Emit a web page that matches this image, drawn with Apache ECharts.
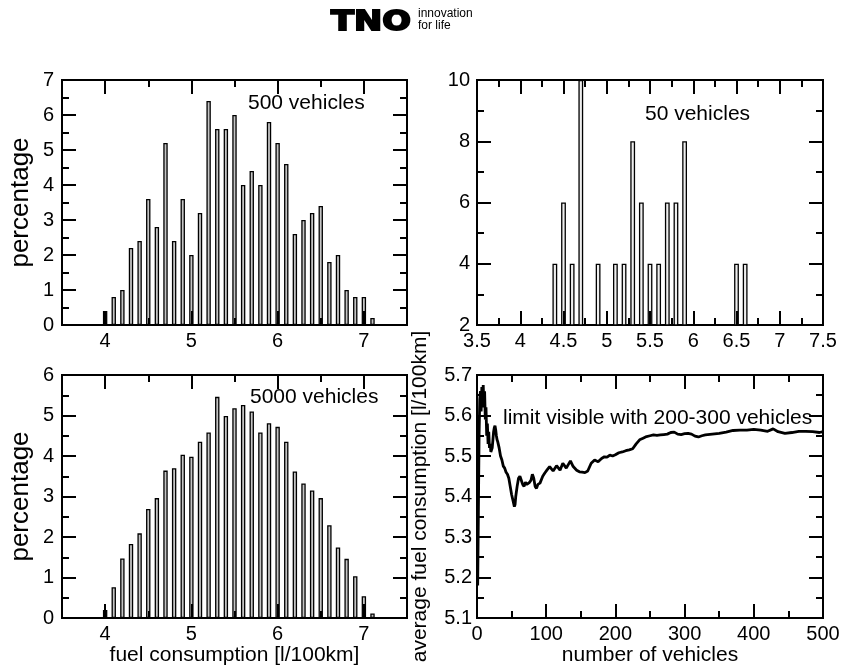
<!DOCTYPE html>
<html>
<head>
<meta charset="utf-8">
<title>fuel consumption</title>
<script src="https://cdn.jsdelivr.net/npm/echarts@6/dist/echarts.min.js"></script>
<style>
  html, body { margin: 0; padding: 0; background: #fff; }
  #chart { width: 843px; height: 671px; }
</style>
</head>
<body>
<div id="chart"></div>
<script>
// histogram bins (bin centre, l/100km)
const binCenters = [4.0, 4.1, 4.2, 4.3, 4.4, 4.5, 4.6, 4.7, 4.8, 4.9, 5.0, 5.1, 5.2, 5.3, 5.4, 5.5,
  5.6, 5.7, 5.8, 5.9, 6.0, 6.1, 6.2, 6.3, 6.4, 6.5, 6.6, 6.7, 6.8, 6.9, 7.0, 7.1]
// 500 vehicles, percentage per bin
const pct500 = [0.4, 0.8, 1.0, 2.2, 2.4, 3.6, 2.8, 5.2, 2.4, 3.6, 2.0, 3.2, 6.4, 5.6, 5.6, 6.0,
  4.0, 4.4, 4.0, 5.8, 5.2, 4.6, 2.6, 3.0, 3.2, 3.4, 1.8, 2.0, 1.0, 0.8, 0.8, 0.2]
// 5000 vehicles
const pct5000 = [0.2, 0.76, 1.47, 1.83, 2.09, 2.69, 2.96, 3.64, 3.7, 4.03, 3.98, 4.35, 4.58, 5.46, 4.99, 5.18,
  5.26, 5.1, 4.58, 4.81, 4.72, 4.35, 3.62, 3.32, 3.15, 2.96, 2.29, 1.74, 1.46, 1.03, 0.54, 0.11]
// 50 vehicles (only the bins above the axis minimum)
const bins50 = [4.4, 4.5, 4.6, 4.7, 4.9, 5.1, 5.2, 5.3, 5.4, 5.5, 5.6, 5.7, 5.8, 5.9, 6.5, 6.6]
const pct50 = [4, 6, 4, 10, 4, 4, 4, 8, 6, 4, 4, 6, 6, 8, 4, 4]

// running average against number of vehicles
const nVehicles = [1, 2, 3, 4, 5, 6, 7, 8, 9, 10, 11, 12, 13, 14, 15, 16, 17, 18, 19, 20,
  21, 22, 23, 24, 25, 26, 27, 28, 29, 30, 32, 34, 36, 38, 40, 42, 44, 46, 48, 50,
  52, 54, 55, 56, 58, 60, 62, 64, 66, 68, 70, 72, 74, 76, 78, 80, 82, 84, 86, 88,
  91, 95, 98, 101, 105, 110, 115, 120, 124, 129, 135, 139, 144, 148, 152, 156, 160, 165, 170, 175,
  180, 184, 188, 192, 196, 200, 205, 210, 215, 220, 225, 230, 235, 240, 245, 250, 255, 260, 265, 270,
  275, 280, 285, 290, 295, 300, 305, 310, 315, 320, 325, 330, 340, 350, 360, 370, 380, 390, 400, 410,
  420, 428, 435, 445, 455, 465, 475, 485, 495, 500]
const avgFuel = [5.18, 5.36, 5.55, 5.64, 5.66, 5.61, 5.67, 5.63, 5.675, 5.62, 5.66, 5.59, 5.62, 5.55, 5.58, 5.53, 5.56, 5.52, 5.53, 5.51,
  5.51, 5.52, 5.54, 5.56, 5.57, 5.575, 5.565, 5.55, 5.54, 5.535, 5.52, 5.50, 5.49, 5.475, 5.47, 5.46, 5.455, 5.445, 5.425, 5.405,
  5.39, 5.375, 5.38, 5.40, 5.425, 5.445, 5.45, 5.44, 5.43, 5.425, 5.435, 5.43, 5.43, 5.435, 5.44, 5.455, 5.445, 5.425, 5.42, 5.43,
  5.433, 5.45, 5.458, 5.465, 5.474, 5.463, 5.476, 5.465, 5.482, 5.47, 5.488, 5.474, 5.465, 5.461, 5.46, 5.459, 5.463, 5.482, 5.49, 5.486,
  5.494, 5.498, 5.497, 5.502, 5.5, 5.503, 5.508, 5.51, 5.513, 5.515, 5.518, 5.53, 5.54, 5.544, 5.548, 5.55, 5.552, 5.551, 5.552, 5.553,
  5.554, 5.558, 5.559, 5.554, 5.553, 5.555, 5.556, 5.554, 5.549, 5.547, 5.55, 5.552, 5.554, 5.556, 5.559, 5.563, 5.564, 5.564, 5.566, 5.564,
  5.561, 5.567, 5.56, 5.556, 5.558, 5.561, 5.561, 5.56, 5.558, 5.56]

const histMajor = [4, 5, 6, 7]
const histMinor = [4.5, 5.5, 6.5]

const FONT = 'Liberation Sans'
const black = '#000'

let xAxis = []
let yAxis = []

function tickStyle(len) {
  return { show: true, inside: true, length: len, lineStyle: { color: black, width: 2 } }
}

// main axis with labels plus a mirrored one on the opposite side (Grace style box ticks)
function addAxes(list, dim, grid, cfg) {
  let sides = dim === 'x' ? ['bottom', 'top'] : ['left', 'right']
  let mainIndex = list.length
  sides.forEach((side, k) => {
    let ax = {
      type: 'value',
      gridIndex: grid,
      position: side,
      min: cfg.min,
      max: cfg.max,
      z: 5,
      axisLine: { show: false, onZero: false },
      splitLine: { show: false },
      axisTick: tickStyle(14),
      axisLabel: {
        show: k === 0,
        color: black,
        fontFamily: FONT,
        fontSize: 20,
        margin: cfg.margin,
        showMinLabel: true,
        showMaxLabel: true,
        formatter: cfg.fmt
      }
    }
    if (cfg.interval) {
      ax.interval = cfg.interval
      ax.minorTick = { show: true, splitNumber: cfg.minorSplit, length: 7, lineStyle: { color: black, width: 2 } }
    }
    if (cfg.major) {
      ax.axisTick.customValues = cfg.major
      ax.axisLabel.customValues = cfg.major
    }
    if (k === 0 && cfg.name) {
      ax.name = cfg.name
      ax.nameLocation = 'middle'
      ax.nameGap = cfg.nameGap
      ax.nameTextStyle = { color: black, fontFamily: FONT, fontSize: cfg.nameSize }
    }
    list.push(ax)
  })
  if (cfg.minor) {
    sides.forEach(side => {
      let t = tickStyle(7)
      t.customValues = cfg.minor
      list.push({
        type: 'value', gridIndex: grid, position: side,
        min: cfg.min, max: cfg.max, z: 5,
        axisLine: { show: false, onZero: false },
        splitLine: { show: false },
        axisLabel: { show: false },
        axisTick: t
      })
    })
  }
  return mainIndex
}

const grids = [
  { left: 62, top: 80, width: 345, height: 245 },
  { left: 477, top: 80, width: 346, height: 245 },
  { left: 62, top: 375, width: 345, height: 243 },
  { left: 477, top: 375, width: 346, height: 243 }
].map(g => Object.assign(g, { show: true, borderColor: black, borderWidth: 2, backgroundColor: 'transparent' }))

// top left: 500 vehicles
let x0 = addAxes(xAxis, 'x', 0, { min: 3.5, max: 7.5, major: histMajor, minor: histMinor, margin: 6 })
let y0 = addAxes(yAxis, 'y', 0, { min: 0, max: 7, interval: 1, minorSplit: 2, margin: 8,
  name: 'percentage', nameGap: 28, nameSize: 26 })
// top right: 50 vehicles
let x1 = addAxes(xAxis, 'x', 1, { min: 3.5, max: 7.5, interval: 0.5, minorSplit: 2, margin: 6 })
let y1 = addAxes(yAxis, 'y', 1, { min: 2, max: 10, interval: 2, minorSplit: 2, margin: 7 })
// bottom left: 5000 vehicles
let x2 = addAxes(xAxis, 'x', 2, { min: 3.5, max: 7.5, major: histMajor, minor: histMinor, margin: 6,
  name: 'fuel consumption [l/100km]', nameGap: 25, nameSize: 21 })
let y2 = addAxes(yAxis, 'y', 2, { min: 0, max: 6, interval: 1, minorSplit: 2, margin: 8,
  name: 'percentage', nameGap: 28, nameSize: 26 })
// bottom right: running average
let x3 = addAxes(xAxis, 'x', 3, { min: 0, max: 500, interval: 100, minorSplit: 2, margin: 6,
  name: 'number of vehicles', nameGap: 25, nameSize: 21 })
let y3 = addAxes(yAxis, 'y', 3, { min: 5.1, max: 5.7, interval: 0.1, minorSplit: 2, margin: 5,
  fmt: v => v.toFixed(1), name: 'average fuel consumption [l/100km]', nameGap: 46, nameSize: 21 })

function histSeries(xi, yi, xs, ys, fill, width) {
  return {
    type: 'bar',
    xAxisIndex: xi,
    yAxisIndex: yi,
    barWidth: width,
    silent: true,
    itemStyle: { color: fill, borderColor: black, borderWidth: 1.3 },
    data: xs.map((x, i) => [x, ys[i]])
  }
}

function label(text, x, y) {
  return { type: 'text', x: x, y: y, z: 10, style: { text: text, fill: black, font: '21px "' + FONT + '"' } }
}

let chart = echarts.init(document.getElementById('chart'))
chart.setOption({
  animation: false,
  backgroundColor: '#fff',
  grid: grids,
  xAxis: xAxis,
  yAxis: yAxis,
  series: [
    histSeries(x0, y0, binCenters, pct500, '#c4c4c4', 4.4),
    histSeries(x1, y1, bins50, pct50, '#eeeeee', 4.8),
    histSeries(x2, y2, binCenters, pct5000, '#c4c4c4', 4.4),
    {
      type: 'line',
      xAxisIndex: x3,
      yAxisIndex: y3,
      showSymbol: false,
      silent: true,
      lineStyle: { color: black, width: 2.8 },
      data: nVehicles.map((n, i) => [n, avgFuel[i]])
    }
  ],
  graphic: [
    { type: 'text', x: 331, y: 9, scaleX: 1.25, style: { text: 'TNO', fill: black, stroke: black, lineWidth: 1.8, font: 'bold 27px "DejaVu Sans"' } },
    { type: 'text', x: 418, y: 8, style: { text: 'innovation', fill: black, font: '12px "' + FONT + '"' } },
    { type: 'text', x: 418, y: 20, style: { text: 'for life', fill: black, font: '12px "' + FONT + '"' } },
    label('500 vehicles', 248, 93),
    label('50 vehicles', 645, 104),
    label('5000 vehicles', 250, 387),
    label('limit visible with 200-300 vehicles', 503, 408)
  ]
})
</script>
</body>
</html>
